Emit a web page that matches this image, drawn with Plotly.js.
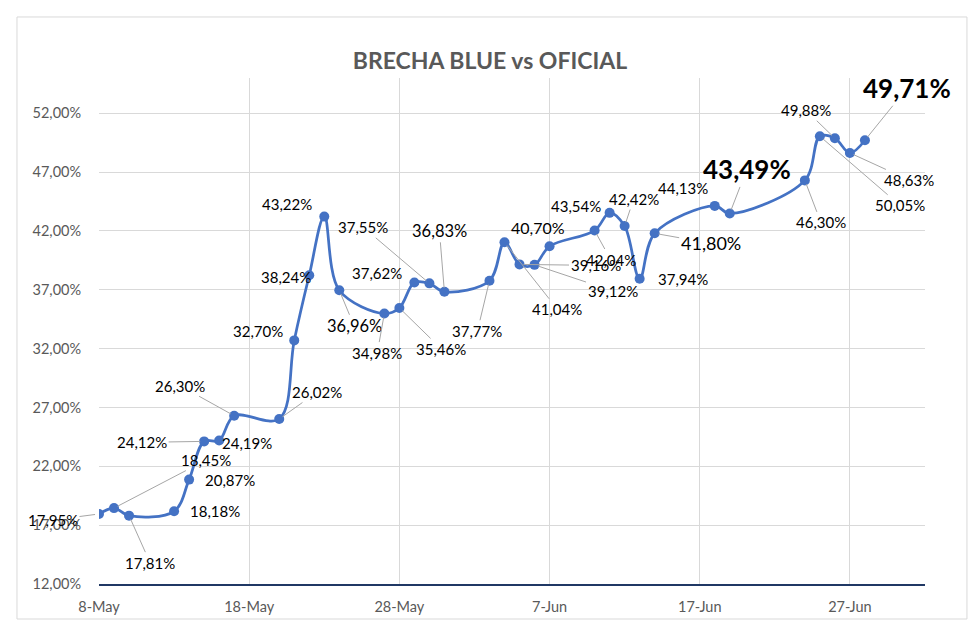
<!DOCTYPE html>
<html>
<head>
<meta charset="utf-8">
<script src="https://cdn.plot.ly/plotly-3.0.1.min.js"></script>
<style>html,body{margin:0;padding:0;background:#fff;}#chart{width:980px;height:635px;}</style>
</head>
<body>
<div id="chart"></div>
<script>
// ---- data ----
const dates = ['2024-05-08','2024-05-09','2024-05-10','2024-05-13','2024-05-14','2024-05-15','2024-05-16','2024-05-17',
  '2024-05-20','2024-05-21','2024-05-22','2024-05-23','2024-05-24','2024-05-27','2024-05-28','2024-05-29','2024-05-30','2024-05-31',
  '2024-06-03','2024-06-04','2024-06-05','2024-06-06','2024-06-07','2024-06-10','2024-06-11','2024-06-12','2024-06-13','2024-06-14',
  '2024-06-18','2024-06-19','2024-06-24','2024-06-25','2024-06-26','2024-06-27','2024-06-28'];
const brecha = [17.95,18.45,17.81,18.18,20.87,24.12,24.19,26.30,
  26.02,32.70,38.24,43.22,36.96,34.98,35.46,37.62,37.55,36.83,
  37.77,41.04,39.16,39.12,40.70,42.04,43.54,42.42,37.94,41.80,
  44.13,43.49,46.30,50.05,49.88,48.63,49.71];
const xTickStart = '2024-05-08';
const chartTitle = 'BRECHA BLUE vs OFICIAL';

// ---- label placement (pixel offsets from each point) & styles ----
const labelDX = [-46,92,21,41,41,-62,28,-54, 38,-36,-23,-37,15,-7,42,-37,-66,-5, -12,53,76,78,-12,16,-34,9,43,56, -32,17,16,80,-29,59,42];
const labelDY = [6,-48,47,0,0,1,2,-30, -27,-9,2,-13,36,39,41,-10,-56,-61, 50,67,1,26,-19,29,-7,-27,0,10, -18,-44,42,69,-28,27,-52];
const leader  = [1,1,1,0,0,1,0,1, 1,0,0,0,1,1,1,0,1,1, 1,1,1,1,0,1,0,1,0,1, 0,1,1,1,1,1,1];
const labelSize=[15,15,15,15,15,15,15,15, 15,15,15,15,16.5,15,15,15,15,16.5, 15,15,15,15,16,15,15,15,15,18, 15,26,15,15,15,15,26];
const labelBold=[0,0,0,0,0,0,0,0, 0,0,0,0,0,0,0,0,0,0, 0,0,0,0,0,0,0,0,0,0, 0,1,0,0,0,0,1];

const fmt = v => v.toFixed(2).replace('.', ',') + '%';

const annotations = brecha.map((v, i) => ({
  x: dates[i], y: v, xref: 'x', yref: 'y',
  text: labelBold[i] ? '<b>' + fmt(v) + '</b>' : fmt(v),
  showarrow: true, arrowhead: 0, arrowwidth: 1,
  arrowcolor: leader[i] ? '#a6a6a6' : 'rgba(0,0,0,0)',
  standoff: 4,
  ax: labelDX[i], ay: labelDY[i],
  font: {family: 'Lato, "Open Sans", sans-serif', size: labelSize[i], color: '#000'}
}));

const trace = {
  x: dates, y: brecha, type: 'scatter', mode: 'lines+markers',
  line: {color: '#4472C4', width: 2.75, shape: 'spline', smoothing: 1},
  marker: {color: '#4472C4', size: 10},
  hoverinfo: 'skip'
};

const layout = {
  width: 980, height: 635,
  margin: {l: 99, r: 55, t: 78, b: 51},
  paper_bgcolor: '#fff', plot_bgcolor: '#fff',
  separators: ',.',
  showlegend: false,
  title: {text: '<b>' + chartTitle + '</b>', x: 0.5, xanchor: 'center', y: 0.904, yanchor: 'middle',
          font: {family: 'Lato, "Open Sans", sans-serif', size: 23, color: '#595959'}},
  xaxis: {
    type: 'date', range: ['2024-05-08', '2024-07-02'],
    tick0: xTickStart, dtick: 864000000, tickformat: '%-d-%b',
    showgrid: true, gridcolor: '#d9d9d9', gridwidth: 1,
    showline: true, linecolor: '#203864', linewidth: 1.5,
    ticks: 'outside', ticklen: 9, tickcolor: 'rgba(0,0,0,0)',
    tickfont: {family: 'Lato, "Open Sans", sans-serif', size: 14.5, color: '#595959'},
    zeroline: false, fixedrange: true
  },
  yaxis: {
    range: [12, 55], tick0: 12, dtick: 5, tickformat: '.2f', ticksuffix: '%',
    showgrid: true, gridcolor: '#d9d9d9', gridwidth: 1,
    showline: false, zeroline: false,
    ticks: 'outside', ticklen: 14, tickcolor: 'rgba(0,0,0,0)',
    tickfont: {family: 'Lato, "Open Sans", sans-serif', size: 14.5, color: '#595959'},
    fixedrange: true
  },
  shapes: [{type: 'rect', xref: 'paper', yref: 'paper',
    x0: -0.0993, x1: 1.0508, y0: -0.0692, y1: 1.1206,
    line: {color: '#d9d9d9', width: 1}, fillcolor: 'rgba(0,0,0,0)', layer: 'below'}],
  annotations: annotations
};

Plotly.newPlot('chart', [trace], layout, {staticPlot: true, displayModeBar: false});
</script>
</body>
</html>
